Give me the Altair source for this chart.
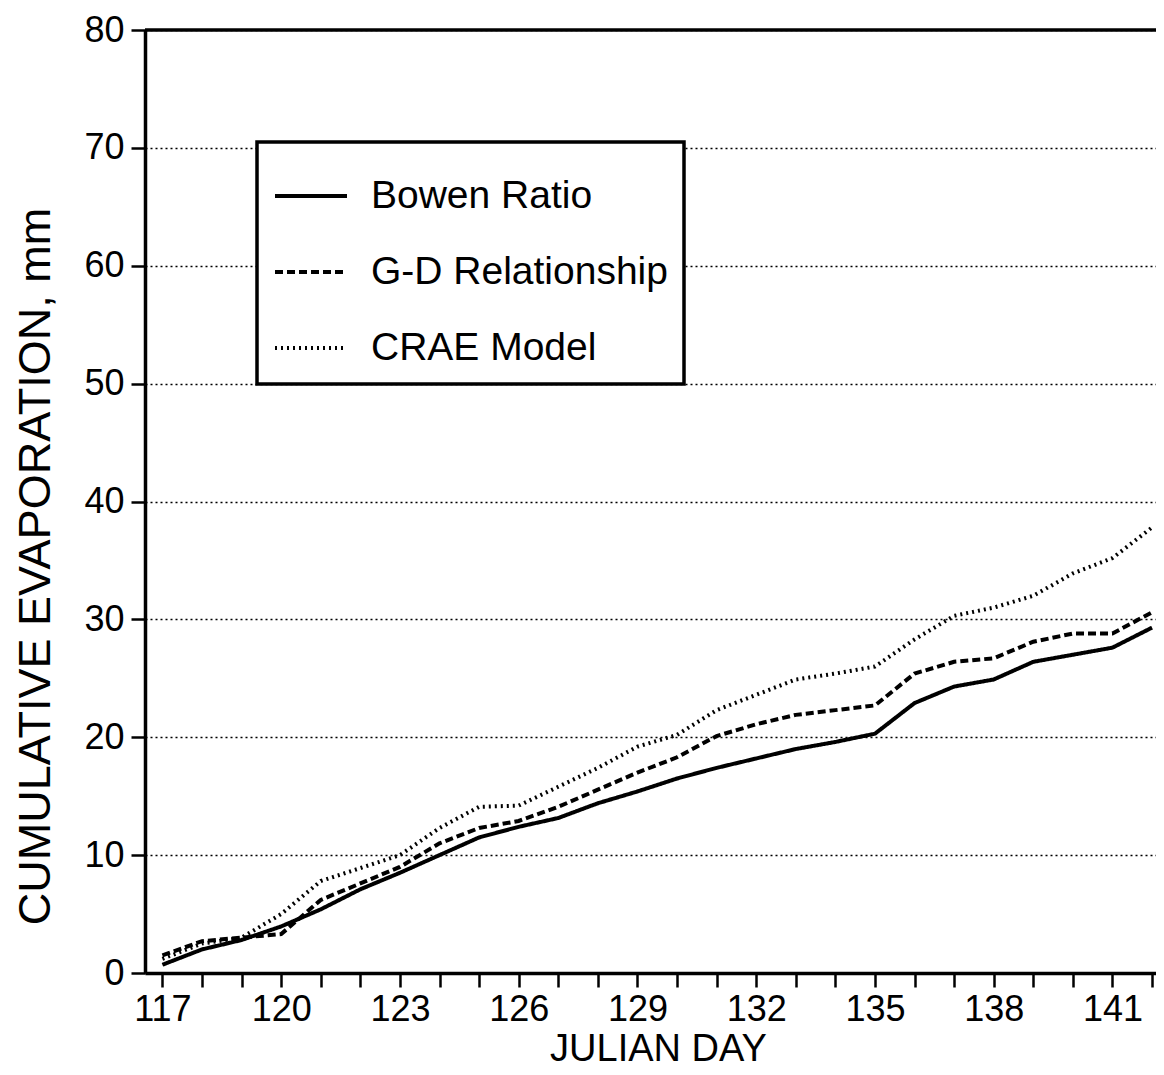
import altair as alt
import pandas as pd

days = list(range(117, 143))
series_names = ["Bowen Ratio", "G-D Relationship", "CRAE Model"]
bowen = [0.7, 2.0, 2.8, 3.95, 5.4, 7.1, 8.5, 10.0, 11.5, 12.4,
         13.15, 14.4, 15.4, 16.5, 17.4, 18.2, 19.0, 19.6, 20.3, 22.9,
         24.3, 24.9, 26.4, 27.0, 27.6, 29.3]
gd = [1.5, 2.7, 3.0, 3.3, 6.2, 7.6, 9.0, 11.0, 12.3, 12.9,
      14.1, 15.55, 17.0, 18.3, 20.1, 21.1, 21.9, 22.3, 22.7, 25.4,
      26.4, 26.7, 28.1, 28.8, 28.8, 30.6]
crae = [1.2, 2.5, 3.0, 5.0, 7.8, 8.9, 10.0, 12.3, 14.1, 14.2,
        15.8, 17.4, 19.2, 20.2, 22.3, 23.6, 24.9, 25.4, 26.0, 28.3,
        30.3, 31.0, 32.0, 33.9, 35.2, 37.8]
y_ticks = list(range(0, 81, 10))

df = pd.DataFrame({
    "day": days * 3,
    "value": bowen + gd + crae,
    "series": [series_names[0]] * len(days) + [series_names[1]] * len(days) + [series_names[2]] * len(days),
})
top_df = pd.DataFrame({"v": [80]})

FONT = "Liberation Sans"

x_enc = alt.X(
    "day:Q",
    scale=alt.Scale(domain=[116.56, 142.1], nice=False, zero=False),
    axis=alt.Axis(
        values=days,
        labelExpr="datum.value % 3 == 0 ? datum.label : ''",
        labelOverlap=False,
        labelFlush=False,
        title="JULIAN DAY",
        grid=False,
        tickSize=14,
        labelPadding=5,
        labelFontSize=36,
        titleFontSize=38,
        titleX=513,
        titleY=87,
        titleBaseline="alphabetic",
    ),
)
y_enc = alt.Y(
    "value:Q",
    scale=alt.Scale(domain=[0, 80], nice=False),
    axis=alt.Axis(
        values=y_ticks,
        title="CUMULATIVE EVAPORATION, mm",
        grid=True,
        gridDash=[2, 3],
        gridColor="black",
        gridWidth=1.5,
        gridOpacity=1,
        tickSize=14,
        labelPadding=7,
        labelFontSize=36,
        titleFontSize=45,
        titleAngle=270,
        titleX=-96,
        titleY=536,
        titleAlign="center",
        titleBaseline="alphabetic",
    ),
)

lines = alt.Chart(df).mark_line(color="black").encode(
    x=x_enc,
    y=y_enc,
    detail="series:N",
    strokeDash=alt.StrokeDash(
        "series:N",
        scale=alt.Scale(domain=series_names, range=[[1, 0], [8, 4], [2, 4]]),
        legend=alt.Legend(
            title=None,
            orient="none",
            legendX=112,
            legendY=112,
            symbolType="stroke",
            symbolSize=5184,
            symbolStrokeColor="black",
            labelFontSize=39,
            labelFont=FONT,
            labelColor="black",
            labelOffset=22,
            labelLimit=600,
            labelExpr="datum.label + '\u00a0\u00a0'",
            padding=16,
            rowPadding=18,
            fillColor="white",
            strokeColor="black",
        ),
    ),
    strokeWidth=alt.StrokeWidth(
        "series:N",
        scale=alt.Scale(domain=series_names, range=[4, 4, 1.6]),
        legend=alt.Legend(title=None),
    ),
)

top_rule = alt.Chart(top_df).mark_rule(color="black", strokeWidth=3.5).encode(
    y=alt.Y("v:Q")
)

chart = alt.layer(lines, top_rule).properties(
    width=1011,
    height=943,
    autosize=alt.AutoSizeParams(type="none"),
    padding={"left": 137, "top": 22, "right": 0, "bottom": 94},
    background="white",
).configure_view(
    stroke=None
).configure_axis(
    domainColor="black",
    domainWidth=3.5,
    tickColor="black",
    tickWidth=2.5,
    labelFont=FONT,
    labelColor="black",
    titleFont=FONT,
    titleColor="black",
    titleFontWeight="normal",
).configure_legend(
    strokeWidth=3.5
)

chart.save("out.html", embed_options={"renderer": "svg", "actions": False})
